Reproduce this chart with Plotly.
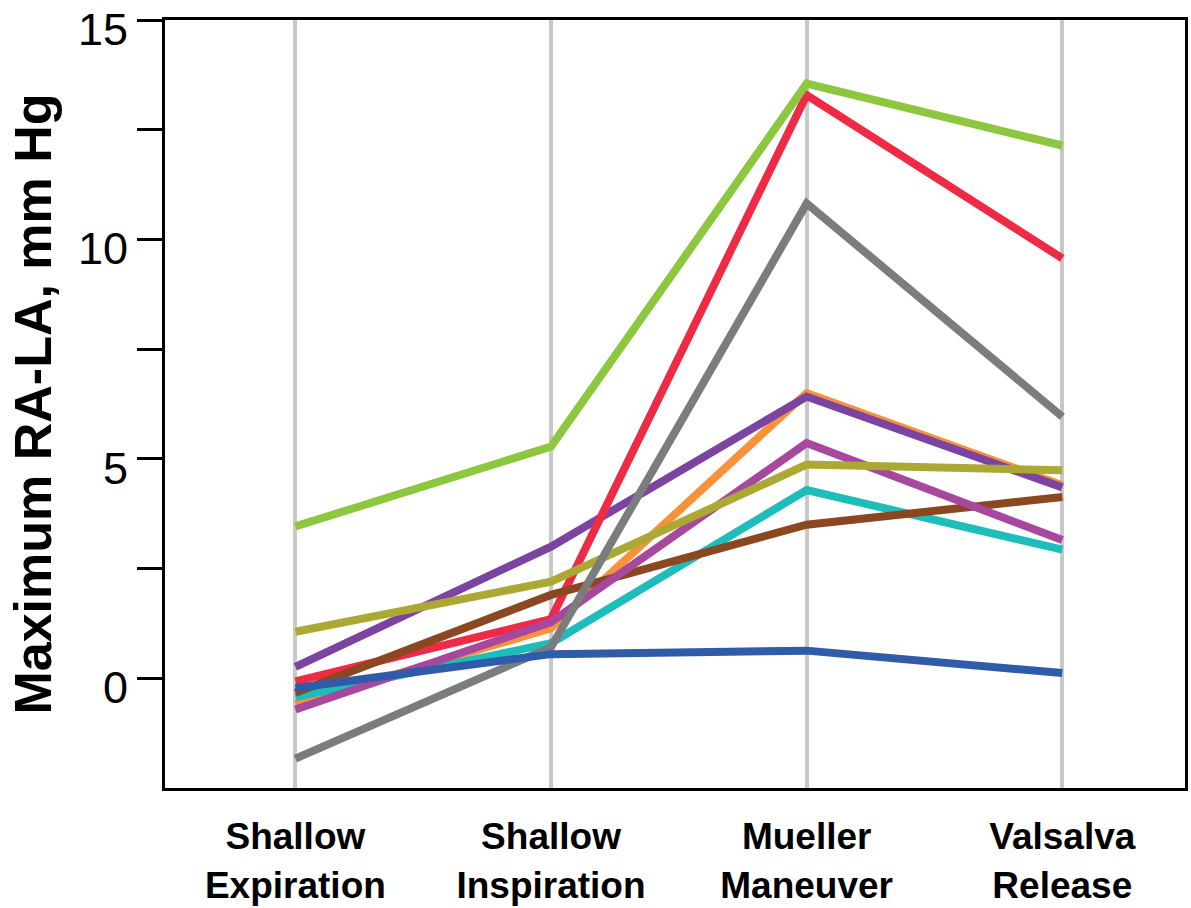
import plotly.graph_objects as go

# Respiratory maneuvers along the x axis
maneuvers = ["Shallow<br>Expiration", "Shallow<br>Inspiration", "Mueller<br>Maneuver", "Valsalva<br>Release"]

# Maximum RA-LA pressure difference (mm Hg) for each subject
subj_orange = [-0.58, 1.14, 6.50, 4.40]
subj_purple = [0.26, 3.00, 6.42, 4.35]
subj_red = [-0.07, 1.35, 13.29, 9.57]
subj_teal = [-0.43, 0.80, 4.29, 2.93]
subj_brown = [-0.33, 1.90, 3.50, 4.13]
subj_magenta = [-0.71, 1.28, 5.36, 3.15]
subj_olive = [1.06, 2.20, 4.87, 4.74]
subj_green = [3.46, 5.28, 13.55, 12.14]
subj_gray = [-1.83, 0.71, 10.82, 5.96]
subj_blue = [-0.22, 0.55, 0.63, 0.12]

series = [
    (subj_orange, "#F7923A"),
    (subj_purple, "#7A44A0"),
    (subj_red, "#EE2A45"),
    (subj_teal, "#1DBDBB"),
    (subj_brown, "#8B4720"),
    (subj_magenta, "#A8479E"),
    (subj_olive, "#ABA834"),
    (subj_green, "#8DC63F"),
    (subj_gray, "#7A7C7E"),
    (subj_blue, "#2F5BA8"),
]

fig = go.Figure()
for vals, color in series:
    fig.add_trace(go.Scatter(
        x=maneuvers, y=vals, mode="lines",
        line=dict(color=color, width=8),
        showlegend=False, hoverinfo="skip",
    ))

fig.update_layout(
    width=1191, height=908,
    margin=dict(l=165, r=6, t=20, b=120),
    paper_bgcolor="white", plot_bgcolor="white",
    font=dict(family="Liberation Sans, Arial, sans-serif", color="black"),
)

fig.update_xaxes(
    type="category",
    range=[-0.51, 3.48],
    automargin=False,
    showgrid=True, gridcolor="#C8C8C8", gridwidth=4,
    showline=True, linecolor="black", linewidth=3, mirror=True,
    ticks="", ticklabelstandoff=14,
    tickfont=dict(size=37, family="Liberation Sans, Arial, sans-serif", weight="bold"),
    zeroline=False,
)

fig.update_yaxes(
    range=[-2.5, 15],
    automargin=False,
    tickvals=[0, 5, 10, 15],
    showgrid=False, zeroline=False,
    showline=True, linecolor="black", linewidth=3, mirror=True,
    ticks="outside", ticklen=25, tickwidth=3, tickcolor="black",
    tickfont=dict(size=45), ticklabeloverflow="allow", ticklabelshift=9,
    minor=dict(tickvals=[2.5, 7.5, 12.5], ticks="outside", ticklen=25,
               tickwidth=3, tickcolor="black", showgrid=False),
    title=dict(text="<b>Maximum RA-LA, mm Hg</b>", font=dict(size=52), standoff=10),
)

fig.write_html("out.html")
